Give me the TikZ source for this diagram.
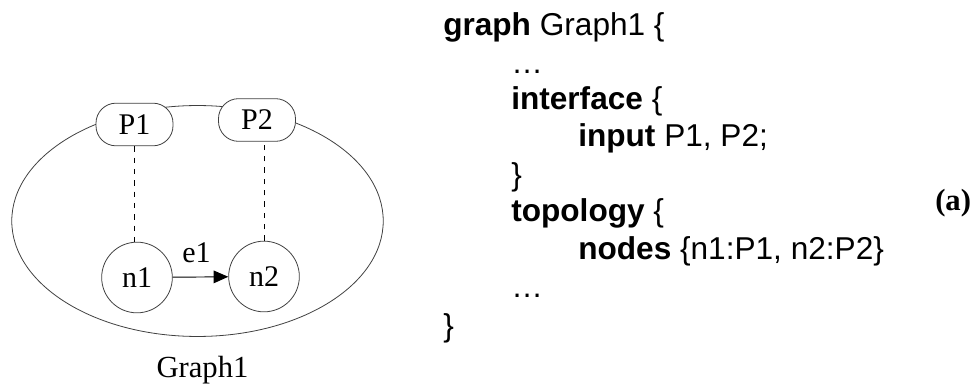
\documentclass[tikz,border=0pt]{standalone}
\usepackage{fontspec}
\setmainfont{Liberation Serif}
\newfontfamily\codefont{Liberation Sans}
\usetikzlibrary{arrows.meta}

\tikzset{
  port/.style={draw=black!75, line width=.6pt, fill=white, rounded corners=15pt,
    minimum width=57.75pt, minimum height=32pt, inner sep=0pt,
    font=\fontsize{22.5}{26}\selectfont},
  gnode/.style={draw=black!75, line width=.6pt, circle, minimum size=53pt, inner sep=0pt,
    font=\fontsize{22.5}{26}\selectfont},
  code/.style={anchor=base west, inner sep=0pt, font=\codefont\fontsize{23.7}{28}\selectfont},
}

\begin{document}
\begin{tikzpicture}[x=.75pt, y=-.75pt]
\useasboundingbox (0,0) rectangle (978,388);
% the graph
\draw[black!75, line width=.6pt] (197.5,221) ellipse [x radius=139.3pt, y radius=86.6pt];
\node[port] (p1) at (134.5,124.5) {P1};
\node[port] (p2) at (257,120) {P2};
\node[gnode] (n1) at (137,277.5) {n1};
\node[gnode] (n2) at (264,276.5) {n2};
\draw[dash pattern=on 4pt off 4.5pt, line width=.7pt] (p1.south) -- (p1.south |- n1.north);
\draw[dash pattern=on 4pt off 4.5pt, line width=.7pt] (n2.north) -- (n2.north |- p2.south);
\draw[line width=.7pt, -{Triangle[length=11pt, width=9.5pt]}] (n1) -- (n2)
  node[midway, anchor=base, yshift=11pt, xshift=-3pt, inner sep=0pt, font=\fontsize{22.5}{26}\selectfont] (e1) {e1};
\node[anchor=base, font=\fontsize{23}{27}\selectfont] (name) at (202.5,377) {Graph1};
% the code
\node[code] (l1) at (443,36) {\textbf{graph} Graph1 \{};
\node[code] (l2) at (511,74) {…};
\node[code] (l3) at (511,110) {\textbf{interface} \{};
\node[code] (l4) at (578,147) {\textbf{input} P1, P2;};
\node[code] (l5) at (511,186) {\}};
\node[code] (l6) at (511,222) {\textbf{topology} \{};
\node[code] (l7) at (578,260) {\textbf{nodes} \{n1:P1, n2:P2\}};
\node[code] (l8) at (511,297) {…};
\node[code] (l9) at (443,336) {\}};
\node[anchor=base west, inner sep=0pt, font=\bfseries\fontsize{23}{27}\selectfont] (tag) at (935,211) {(a)};
\end{tikzpicture}
\end{document}
